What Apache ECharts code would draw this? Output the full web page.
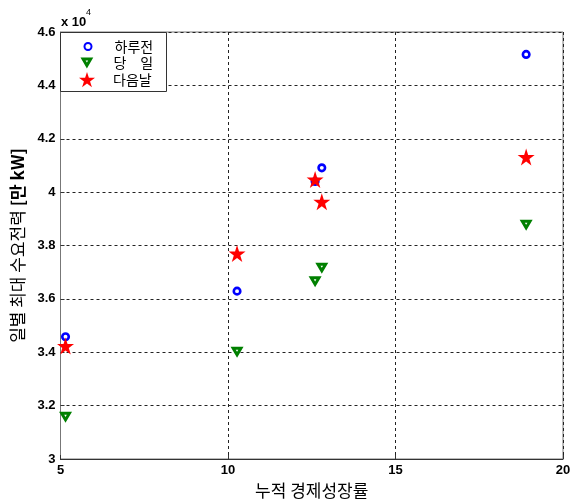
<!DOCTYPE html>
<html>
<head>
<meta charset="utf-8">
<script src="https://cdn.jsdelivr.net/npm/echarts@6/dist/echarts.min.js"></script>
<style>
  html, body { margin: 0; padding: 0; background: #fff; }
  #chart { width: 578px; height: 500px; }
</style>
</head>
<body>
<div id="chart"></div>
<script>
// Cumulative economic growth rate (x) and daily peak demand (y, kW units)
const growth = [5.15, 10.27, 12.6, 12.8, 18.9];
const dayBefore = [34580, 36290, 40400, 40910, 45160];
const sameDay = [31560, 34000, 36640, 37150, 38760];
const nextDay = [34230, 37700, 40470, 39640, 41320];

const seriesNames = ['하루전', '당\u3000일', '다음날'];
const xTicks = [5, 10, 15, 20];
const yTicks = [30000, 32000, 34000, 36000, 38000, 40000, 42000, 44000, 46000];

// marker shapes
const starPath = 'path://M50,0 L61.2,34.5 L97.6,34.5 L68.2,55.9 L79.4,90.5 L50,69.1 L20.6,90.5 L31.8,55.9 L2.4,34.5 L38.8,34.5 Z';
const triPath = 'path://M0,0 L100,0 L50,86 Z M50,40 L60,23 L40,23 Z';

const latin = 'Liberation Sans, Arial, sans-serif';
const korFont = 'Noto Sans CJK KR, sans-serif';
const tickFont = { fontFamily: latin, fontWeight: 'bold', fontSize: 13, color: '#000' };

const circleStyle = { color: '#fff', borderColor: '#0000ff', borderWidth: 2.6, opacity: 1 };
const triStyle = { color: '#008000', borderWidth: 0, opacity: 1 };
const starStyle = { color: '#ff0000', borderWidth: 0, opacity: 1 };

function pairs(ys) { return growth.map((x, i) => [x, ys[i]]); }

// one legend entry per marker so every icon keeps its own size
function legendEntry(name, size, centerY, textPad) {
  return {
    left: 87 - size[0] / 2, top: centerY - size[1] / 2, padding: 0,
    itemWidth: size[0], itemHeight: size[1], z: 6,
    selectedMode: false,
    textStyle: { fontFamily: korFont, fontSize: 14, color: '#000', padding: [0, 0, 0, textPad] },
    data: [name]
  };
}

const chart = echarts.init(document.getElementById('chart'), null, { renderer: 'canvas' });
chart.setOption({
  animation: false,
  backgroundColor: '#fff',
  graphic: [
    {
      type: 'rect', z: 5,
      shape: { x: 60.5, y: 32.5, width: 106, height: 59 },
      style: { fill: '#fff', stroke: '#333', lineWidth: 1 }
    },
    // axis multiplier "x 10^4"
    { type: 'text', x: 61, y: 22, style: { text: 'x 10', font: 'bold 13px ' + latin, fill: '#000', verticalAlign: 'middle' } },
    { type: 'text', x: 86, y: 13, style: { text: '4', font: '9px ' + latin, fill: '#000', verticalAlign: 'middle' } }
  ],
  grid: { left: 60.5, right: 15, top: 32, bottom: 41, show: true, borderColor: '#777', borderWidth: 1, containLabel: false, outerBoundsMode: 'none' },
  legend: [
    legendEntry(seriesNames[0], [7, 7], 43, 18),
    legendEntry(seriesNames[1], [13, 11], 61.5, 15),
    legendEntry(seriesNames[2], [16, 16], 80, 13)
  ],
  xAxis: {
    type: 'value', min: 5, max: 20, interval: 5,
    name: '누적 경제성장률', nameLocation: 'middle', nameGap: 19,
    nameTextStyle: { fontFamily: korFont, fontSize: 17, color: '#000' },
    axisLine: { lineStyle: { color: '#333', width: 1 } },
    axisTick: { inside: true, length: 4, lineStyle: { color: '#333' } },
    axisLabel: Object.assign({ margin: 5, formatter: v => xTicks.includes(v) ? String(v) : '' }, tickFont),
    splitLine: { show: true, lineStyle: { color: '#222', type: [3, 3], width: 1 } }
  },
  yAxis: {
    type: 'value', min: 30000, max: 46000, interval: 2000,
    name: '일별 최대 수요전력 {b|[만 kW]}', nameLocation: 'middle', nameGap: 33,
    nameTextStyle: {
      fontFamily: korFont, fontSize: 17, color: '#000',
      rich: { b: { fontFamily: korFont, fontSize: 17, fontWeight: 'bold', color: '#000' } }
    },
    axisLine: { show: true, lineStyle: { color: '#777', width: 1 } },
    axisTick: { show: true, inside: true, length: 4, lineStyle: { color: '#333' } },
    axisLabel: Object.assign({ margin: 5, formatter: v => yTicks.includes(v) ? String(+(v / 10000).toFixed(1)) : '' }, tickFont),
    splitLine: { show: true, lineStyle: { color: '#222', type: [3, 3], width: 1 } }
  },
  series: [
    {
      name: seriesNames[0], type: 'scatter', data: pairs(dayBefore),
      symbol: 'circle', symbolSize: 6.5, itemStyle: circleStyle
    },
    {
      name: seriesNames[1], type: 'scatter', data: pairs(sameDay),
      symbol: triPath, symbolSize: [13, 11], itemStyle: triStyle
    },
    {
      name: seriesNames[2], type: 'scatter', data: pairs(nextDay),
      symbol: starPath, symbolSize: 17, itemStyle: starStyle
    }
  ]
});
</script>
</body>
</html>
